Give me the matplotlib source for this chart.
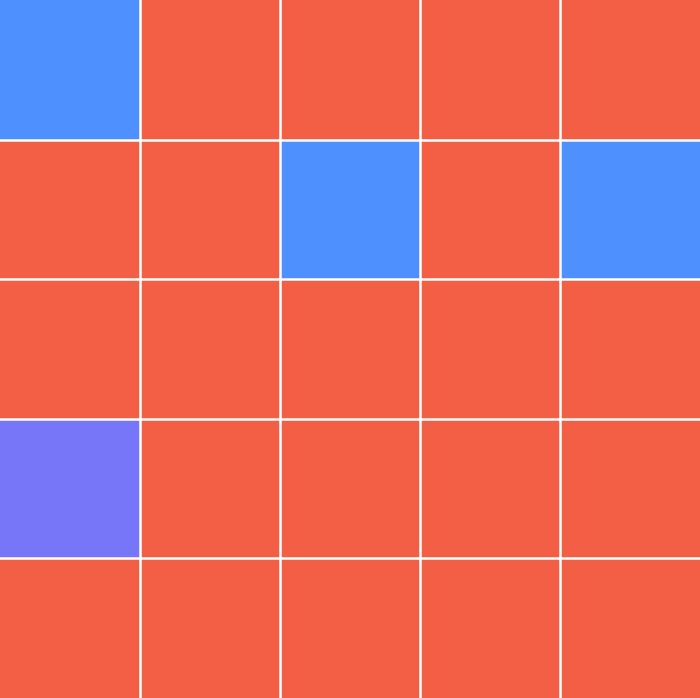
import matplotlib.pyplot as plt
from matplotlib.colors import ListedColormap, BoundaryNorm
import numpy as np

# category code per cell, row 0 = top
cells = [
    [1, 0, 0, 0, 0],
    [0, 0, 1, 0, 1],
    [0, 0, 0, 0, 0],
    [2, 0, 0, 0, 0],
    [0, 0, 0, 0, 0],
]
colors = ["#F25F45", "#4D90FE", "#7776F8"]

cmap = ListedColormap(colors)
norm = BoundaryNorm([-0.5, 0.5, 1.5, 2.5], cmap.N)
data = np.array(cells)
nrows, ncols = data.shape

fig = plt.figure(figsize=(7, 6.98), dpi=100)
ax = fig.add_axes([0, 0, 1, 1])
ax.pcolormesh(data, cmap=cmap, norm=norm)
# white separators between cells only, none on the outer border
ax.set_xticks(np.arange(1, ncols))
ax.set_yticks(np.arange(1, nrows))
ax.grid(True, color="white", linewidth=1.8)
ax.tick_params(length=0, labelbottom=False, labelleft=False)
for s in ax.spines.values():
    s.set_visible(False)
ax.set_xlim(0, ncols)
ax.set_ylim(nrows, 0)
fig.savefig("out.png", dpi=100)
